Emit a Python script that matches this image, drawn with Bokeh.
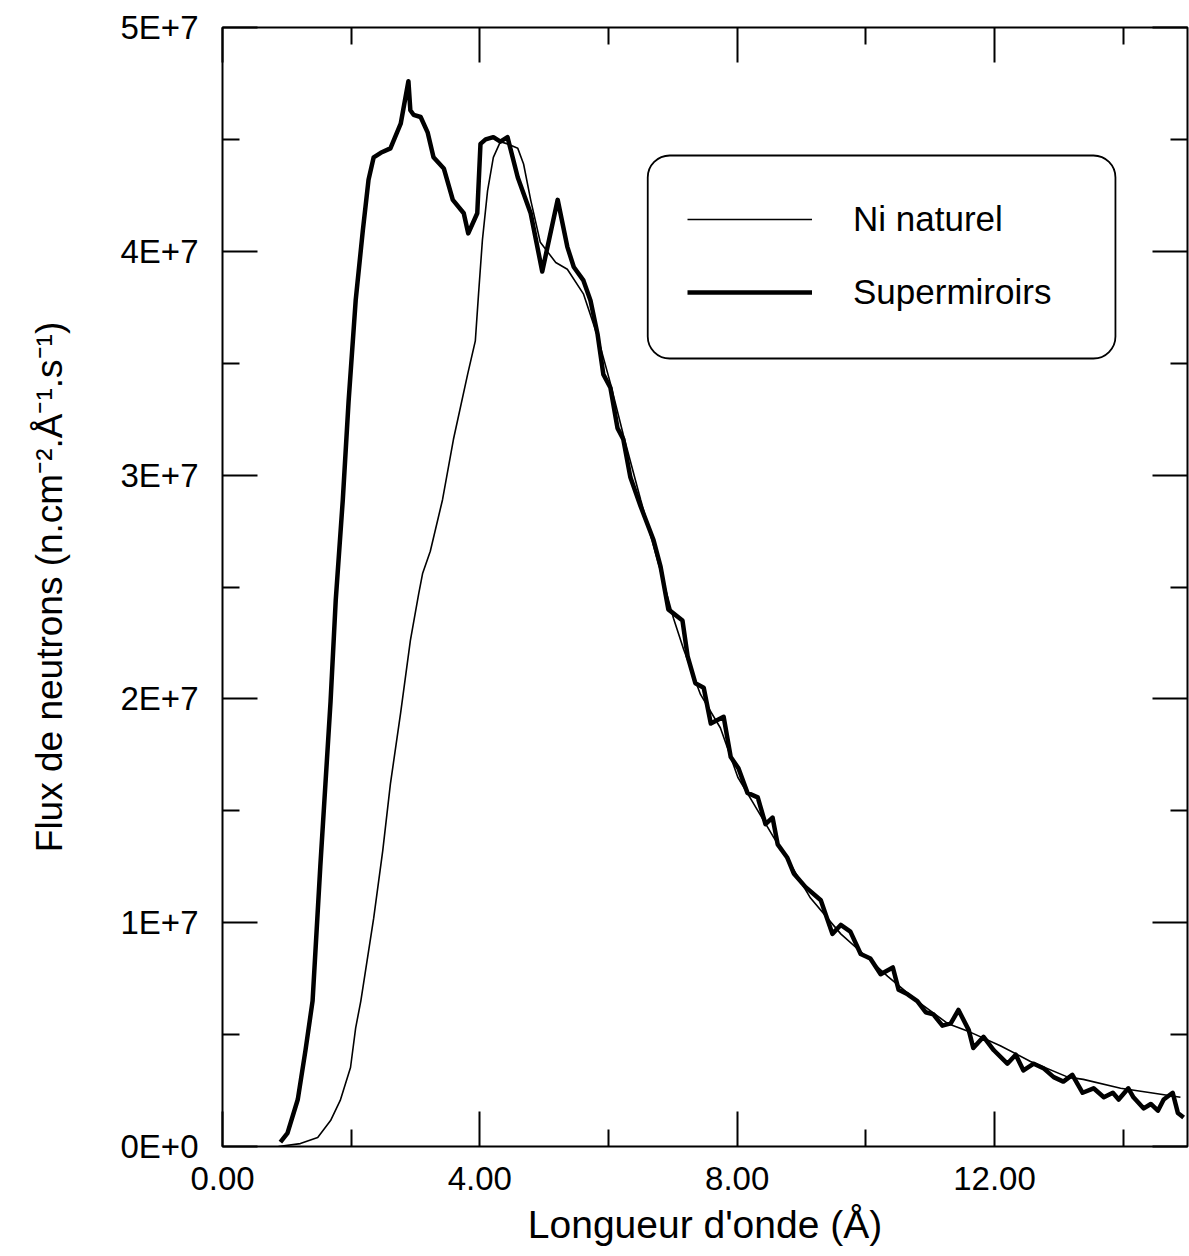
from bokeh.plotting import figure
from bokeh.models import (Range1d, LinearAxis, FixedTicker, NumeralTickFormatter,
                          CustomJSTickFormatter, Legend, LegendItem, BoxAnnotation)
from bokeh.embed import file_html
from bokeh.resources import INLINE

# ---- data (flux in units of 1E+7 n.cm-2.A-1.s-1) ----
sup_x = [0.90, 1.01, 1.17, 1.29, 1.40, 1.52, 1.60, 1.68, 1.76, 1.87,
         1.96, 2.07, 2.18, 2.27, 2.35, 2.46, 2.61, 2.77, 2.89, 2.92,
         2.97, 3.08, 3.19, 3.28, 3.44, 3.58, 3.75, 3.82, 3.96, 4.01,
         4.09, 4.21, 4.32, 4.43, 4.59, 4.79, 4.97, 5.21, 5.36, 5.46,
         5.61, 5.72, 5.83, 5.92, 6.03, 6.14, 6.23, 6.34, 6.50, 6.70,
         6.81, 6.93, 7.15, 7.23, 7.35, 7.48, 7.59, 7.79, 7.90, 8.02,
         8.16, 8.32, 8.44, 8.55, 8.63, 8.78, 8.88, 9.06, 9.30, 9.48,
         9.61, 9.76, 9.92, 10.07, 10.23, 10.42, 10.51, 10.65, 10.80, 10.93,
         11.05, 11.19, 11.32, 11.44, 11.60, 11.67, 11.83, 11.99, 12.20, 12.33,
         12.45, 12.61, 12.76, 12.92, 13.07, 13.21, 13.37, 13.54, 13.70, 13.84,
         13.93, 14.08, 14.16, 14.32, 14.43, 14.54, 14.63, 14.77, 14.85, 14.94]
sup_y = [0.02, 0.06, 0.21, 0.43, 0.65, 1.25, 1.62, 1.99, 2.44, 2.89,
         3.33, 3.78, 4.09, 4.32, 4.42, 4.44, 4.46, 4.57, 4.76, 4.63,
         4.61, 4.60, 4.53, 4.42, 4.37, 4.23, 4.17, 4.08, 4.17, 4.48,
         4.50, 4.51, 4.49, 4.51, 4.33, 4.17, 3.91, 4.23, 4.02, 3.93,
         3.87, 3.78, 3.63, 3.45, 3.39, 3.21, 3.16, 2.99, 2.86, 2.71,
         2.59, 2.40, 2.35, 2.19, 2.07, 2.05, 1.89, 1.92, 1.74, 1.69,
         1.58, 1.56, 1.44, 1.47, 1.35, 1.29, 1.22, 1.16, 1.10, 0.95,
         0.99, 0.96, 0.86, 0.84, 0.77, 0.80, 0.70, 0.68, 0.65, 0.60,
         0.59, 0.54, 0.55, 0.61, 0.52, 0.44, 0.49, 0.43, 0.37, 0.41,
         0.34, 0.37, 0.35, 0.31, 0.29, 0.32, 0.24, 0.26, 0.22, 0.24,
         0.21, 0.26, 0.22, 0.17, 0.19, 0.16, 0.21, 0.24, 0.15, 0.13]

ni_x = [0.87, 1.21, 1.48, 1.68, 1.83, 1.99, 2.07, 2.15, 2.35, 2.49,
        2.61, 2.77, 2.92, 3.05, 3.11, 3.23, 3.42, 3.59, 3.81, 3.93,
        3.98, 4.04, 4.12, 4.21, 4.32, 4.43, 4.59, 4.68, 4.79, 4.94,
        5.18, 5.36, 5.61, 5.83, 6.03, 6.23, 6.50, 6.81, 7.01, 7.17,
        7.43, 7.74, 8.01, 8.26, 8.57, 8.83, 9.14, 9.61, 10.00, 10.34,
        10.80, 11.27, 11.63, 12.09, 12.56, 13.14, 13.38, 13.96, 14.43, 14.89]
ni_y = [0.00, 0.013, 0.04, 0.116, 0.206, 0.353, 0.53, 0.65, 1.02, 1.32,
        1.62, 1.94, 2.26, 2.47, 2.56, 2.66, 2.89, 3.16, 3.45, 3.60,
        3.81, 4.05, 4.27, 4.42, 4.49, 4.48, 4.46, 4.39, 4.23, 4.04,
        3.95, 3.92, 3.81, 3.62, 3.41, 3.18, 2.89, 2.57, 2.36, 2.22,
        2.02, 1.87, 1.65, 1.53, 1.38, 1.26, 1.11, 0.95, 0.85, 0.76,
        0.65, 0.55, 0.51, 0.45, 0.38, 0.31, 0.30, 0.26, 0.24, 0.22]

x_major = [0, 4, 8, 12]
x_minor = [2, 6, 10, 14]
y_major = [0, 1, 2, 3, 4, 5]
y_minor = [0.5, 1.5, 2.5, 3.5, 4.5]
y_tick_labels = ["0E+0", "1E+7", "2E+7", "3E+7", "4E+7", "5E+7"]
series_labels = ["Ni naturel", "Supermiroirs"]

FONT = "Liberation Sans"

p = figure(frame_width=965, frame_height=1119,
           x_range=Range1d(0, 15), y_range=Range1d(0, 5),
           output_backend="svg", toolbar_location=None,
           min_border_left=222, min_border_right=2,
           min_border_top=27, min_border_bottom=100,
           background_fill_color="white", border_fill_color="white")
p.grid.visible = False
p.outline_line_color = "black"
p.outline_line_width = 2

def style_axis(ax):
    ax.axis_line_color = None
    ax.major_tick_in = 35
    ax.major_tick_out = 0
    ax.minor_tick_in = 17
    ax.minor_tick_out = 0
    ax.major_tick_line_width = 2
    ax.minor_tick_line_width = 2
    ax.major_tick_line_color = "black"
    ax.minor_tick_line_color = "black"
    ax.major_label_text_font = FONT
    ax.major_label_text_font_size = "33px"
    ax.major_label_text_color = "black"
    ax.axis_label_text_font = FONT
    ax.axis_label_text_font_style = "normal"
    ax.axis_label_text_color = "black"

xt = FixedTicker(ticks=x_major, minor_ticks=x_minor)
yt = FixedTicker(ticks=y_major, minor_ticks=y_minor)

xa = p.xaxis[0]
xa.ticker = xt
xa.formatter = NumeralTickFormatter(format="0.00")
style_axis(xa)
xa.major_label_standoff = 20
xa.axis_label = "Longueur d'onde (Å)"
xa.axis_label_text_font_size = "39px"
xa.axis_label_standoff = 10

ya = p.yaxis[0]
ya.ticker = yt
ya.major_label_overrides = {v: s for v, s in zip(y_major, y_tick_labels)}
style_axis(ya)
ya.major_label_standoff = 24
ya.axis_label = "Flux de neutrons (n.cm⁻².Å⁻¹.s⁻¹)"
ya.axis_label_text_font_size = "37px"
ya.axis_label_standoff = 48

blank = "return ''"
top = LinearAxis(ticker=xt, formatter=CustomJSTickFormatter(code=blank))
style_axis(top)
top.major_label_text_font_size = "1px"
top.major_label_standoff = 0
p.add_layout(top, "above")

right = LinearAxis(ticker=yt, formatter=CustomJSTickFormatter(code=blank))
style_axis(right)
right.major_label_text_font_size = "1px"
right.major_label_standoff = 0
p.add_layout(right, "right")

r_ni = p.line(ni_x, ni_y, line_color="black", line_width=1.6)
r_sup = p.line(sup_x, sup_y, line_color="black", line_width=4.5, line_join="round")

# rounded legend frame
box = BoxAnnotation(left=6.61, right=13.88, top=4.428, bottom=3.521,
                    fill_color=None, line_color="black", line_alpha=1.0,
                    line_width=1.8, border_radius=22)
p.add_layout(box)

legend = Legend(items=[LegendItem(label=series_labels[0], renderers=[r_ni]),
                       LegendItem(label=series_labels[1], renderers=[r_sup])],
                location=(465, 834), orientation="vertical",
                border_line_color=None, background_fill_alpha=0,
                padding=42, margin=0, spacing=33,
                glyph_width=125, glyph_height=40, label_height=40,
                label_width=222, label_standoff=41,
                label_text_font=FONT, label_text_font_size="35px",
                label_text_color="black")
p.add_layout(legend, "center")

open("out.html", "w").write(file_html(p, INLINE))
